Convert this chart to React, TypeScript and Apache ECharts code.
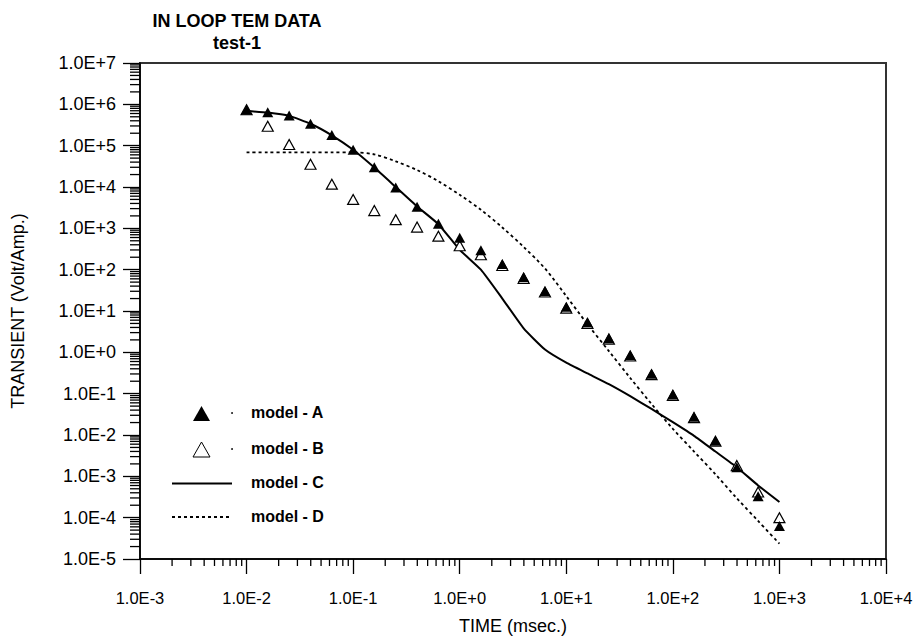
import React, { useEffect, useRef } from "react";
import * as echarts from "echarts";

const FONT = "'Liberation Sans', Arial, Helvetica, sans-serif";

const titleText = "IN LOOP TEM DATA";
const subTitleText = "test-1";
const xAxisName = "TIME (msec.)";
const yAxisName = "TRANSIENT (Volt/Amp.)";
const legendLabels = ["model - A", "model - B", "model - C", "model - D"];

const times = [
  0.01, 0.0158, 0.0251, 0.0398, 0.0631, 0.1, 0.158, 0.251, 0.398, 0.631,
  1, 1.58, 2.51, 3.98, 6.31, 10, 15.8, 25.1, 39.8, 63.1,
  100, 158, 251, 398, 631, 1000,
];

const modelA = [
  7.4e5, 6.46e5, 5.37e5, 3.39e5, 1.82e5, 7.94e4, 3.02e4, 9.77e3, 3.31e3, 1.29e3,
  589, 295, 138, 66.1, 30.2, 12.6, 5.37, 2.19, 0.851, 0.302,
  0.0955, 0.0275, 0.00724, 0.00166, 3.31e-4, 6.31e-5,
];

const modelB = [
  7.4e5, 2.95e5, 1.07e5, 3.55e4, 1.17e4, 5.01e3, 2.69e3, 1.62e3, 1.07e3, 646,
  380, 229, 126, 61.7, 28.8, 11.7, 5.01, 2.09, 0.813, 0.288,
  0.0912, 0.0263, 0.00708, 0.00182, 4.17e-4, 1.0e-4,
];

const modelC = [
  6.92e5, 6.31e5, 5.25e5, 3.39e5, 1.78e5, 7.94e4, 2.95e4, 1.0e4, 3.39e3, 1.26e3,
  302, 100, 20.0, 3.8, 1.17, 0.562, 0.309, 0.17, 0.0871, 0.0427,
  0.0204, 0.00955, 0.00398, 0.00166, 6.03e-4, 2.4e-4,
];

const modelD = [
  6.92e4, 6.92e4, 6.92e4, 6.92e4, 6.92e4, 6.92e4, 6.17e4, 4.17e4, 2.57e4, 1.38e4,
  6.46e3, 2.82e3, 1.05e3, 355, 107, 22.9, 4.79, 1.07, 0.24, 0.0562,
  0.0141, 0.00398, 0.00112, 2.95e-4, 8.32e-5, 2.34e-5,
];

const X_MIN = 1e-3;
const X_MAX = 1e4;
const Y_MIN = 1e-5;
const Y_MAX = 1e7;

function minorTicks(minExp: number, maxExp: number): number[] {
  const out: number[] = [];
  for (let e = minExp; e < maxExp; e++) {
    for (let k = 2; k <= 9; k++) out.push(k * Math.pow(10, e));
  }
  return out;
}

const xMinor = minorTicks(-3, 4);
const yMinor = minorTicks(-5, 7);

function sciLabel(v: number): string {
  const e = Math.round(Math.log10(v));
  return "1.0E" + (e >= 0 ? "+" : "-") + Math.abs(e);
}

const zip = (xs: number[], ys: number[]) => xs.map((x, i) => [x, ys[i]]);

export default function App() {
  const ref = useRef<HTMLDivElement>(null);

  useEffect(() => {
    document.body.style.margin = "0";
    if (!ref.current) return;
    const chart = echarts.init(ref.current, undefined, { renderer: "svg" });

    const legendText = (y: number, t: string) => ({
      type: "text",
      left: 251,
      top: y - 9,
      style: { text: t, fontSize: 16, fontWeight: "bold", fontFamily: FONT, fill: "#000" },
    });

    const option: any = {
      animation: false,
      backgroundColor: "#fff",
      title: {
        text: titleText,
        subtext: subTitleText,
        left: 232,
        textAlign: "center",
        top: 7,
        itemGap: 4,
        textStyle: { fontSize: 18, fontWeight: "bold", color: "#000", fontFamily: FONT },
        subtextStyle: { fontSize: 18, fontWeight: "bold", color: "#000", fontFamily: FONT },
      },
      grid: {
        left: 140,
        right: 30,
        top: 63,
        bottom: 79,
        show: true,
        borderColor: "#333",
        borderWidth: 2,
        backgroundColor: "transparent",
      },
      xAxis: {
        type: "log",
        logBase: 10,
        min: X_MIN,
        max: X_MAX,
        interval: 1,
        name: xAxisName,
        nameLocation: "middle",
        nameGap: 58,
        nameTextStyle: { fontSize: 18, color: "#000", fontFamily: FONT },
        axisLine: { show: true, lineStyle: { color: "#000", width: 1.5 } },
        axisTick: { show: true, inside: false, length: 15, lineStyle: { color: "#000", width: 1.3 } },
        axisLabel: { margin: 30, fontSize: 16.5, color: "#000", fontFamily: FONT, formatter: sciLabel },
        splitLine: { show: false },
        minorTick: { show: false },
      },
      yAxis: {
        type: "log",
        logBase: 10,
        min: Y_MIN,
        max: Y_MAX,
        interval: 1,
        name: yAxisName,
        nameLocation: "middle",
        nameGap: 113,
        nameRotate: 90,
        nameTextStyle: { fontSize: 18, color: "#000", fontFamily: FONT },
        axisLine: { show: true, lineStyle: { color: "#000", width: 1.5 } },
        axisTick: { show: true, inside: false, length: 17, lineStyle: { color: "#000", width: 1.3 } },
        axisLabel: { margin: 24, fontSize: 18, color: "#000", fontFamily: FONT, formatter: sciLabel },
        splitLine: { show: false },
        minorTick: { show: false },
      },
      series: [
        {
          name: "xMinorTicks",
          type: "custom",
          silent: true,
          clip: false,
          z: 5,
          data: xMinor.map((v) => [v, Y_MIN]),
          renderItem: (_p: any, api: any) => {
            const p = api.coord([api.value(0), Y_MIN]);
            return {
              type: "line",
              shape: { x1: p[0], y1: p[1], x2: p[0], y2: p[1] + 7 },
              style: { stroke: "#000", lineWidth: 1.3 },
            };
          },
        },
        {
          name: "yMinorTicks",
          type: "custom",
          silent: true,
          clip: false,
          z: 5,
          data: yMinor.map((v) => [X_MIN, v]),
          renderItem: (_p: any, api: any) => {
            const p = api.coord([X_MIN, api.value(1)]);
            return {
              type: "line",
              shape: { x1: p[0] - 10, y1: p[1], x2: p[0], y2: p[1] },
              style: { stroke: "#000", lineWidth: 1.3 },
            };
          },
        },
        {
          name: legendLabels[2],
          type: "line",
          data: zip(times, modelC),
          symbol: "none",
          showSymbol: false,
          smooth: 0.15,
          lineStyle: { color: "#000", width: 2 },
          z: 2,
        },
        {
          name: legendLabels[3],
          type: "line",
          data: zip(times, modelD),
          symbol: "none",
          showSymbol: false,
          smooth: 0.3,
          lineStyle: { color: "#000", width: 1.8, type: [3, 3] },
          z: 2,
        },
        {
          name: legendLabels[1],
          type: "scatter",
          data: zip(times, modelB),
          symbol: "triangle",
          symbolSize: [11, 10],
          itemStyle: { color: "#fff", borderColor: "#000", borderWidth: 1.2, opacity: 1 },
          z: 3,
        },
        {
          name: legendLabels[0],
          type: "scatter",
          data: zip(times, modelA),
          symbol: "triangle",
          symbolSize: [11, 10],
          itemStyle: { color: "#000", opacity: 1 },
          z: 4,
        },
      ],
      graphic: [
        {
          type: "polygon",
          shape: { points: [[193, 421], [210, 421], [201.5, 406]] },
          style: { fill: "#000" },
        },
        { type: "circle", shape: { cx: 232, cy: 413, r: 0.9 }, style: { fill: "#000" } },
        legendText(413, legendLabels[0]),
        {
          type: "polygon",
          shape: { points: [[193, 457], [210, 457], [201.5, 442]] },
          style: { fill: "#fff", stroke: "#000", lineWidth: 1 },
        },
        { type: "circle", shape: { cx: 232, cy: 449, r: 0.9 }, style: { fill: "#000" } },
        legendText(449, legendLabels[1]),
        {
          type: "line",
          shape: { x1: 172, y1: 483.5, x2: 232, y2: 483.5 },
          style: { stroke: "#000", lineWidth: 2 },
        },
        legendText(483, legendLabels[2]),
        {
          type: "line",
          shape: { x1: 172, y1: 517, x2: 232, y2: 517 },
          style: { stroke: "#000", lineWidth: 1.8, lineDash: [3, 3] },
        },
        legendText(517, legendLabels[3]),
      ],
    };

    chart.setOption(option);
    return () => chart.dispose();
  }, []);

  return (
    <div
      ref={ref}
      style={{ position: "fixed", left: 0, top: 0, width: 916, height: 640, background: "#fff" }}
    />
  );
}
